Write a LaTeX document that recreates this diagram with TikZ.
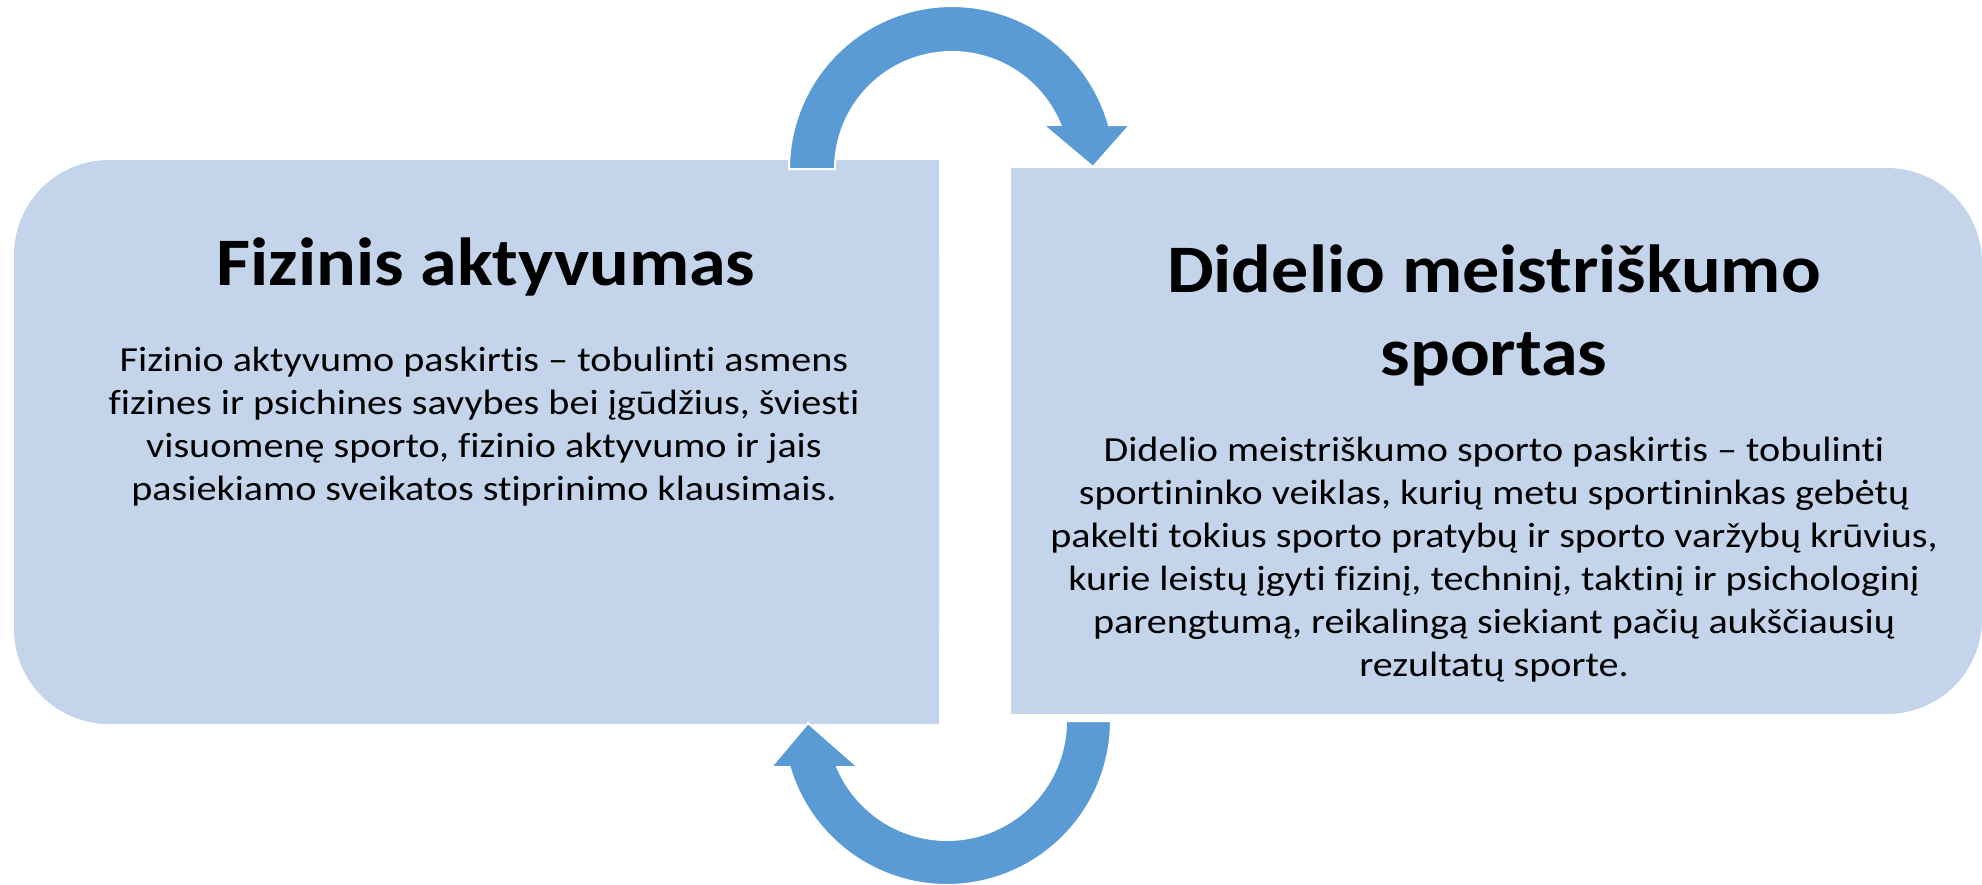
\documentclass[tikz,border=0pt]{standalone}
\usepackage{fontspec}
\setmainfont{Carlito}[Ligatures=NoCommon]
\newfontfamily\titlefont{Carlito}[FakeStretch=1.09,Ligatures=NoCommon]
\newfontfamily\bodyfont{Carlito}[FakeStretch=1.14,Ligatures=NoCommon]
\definecolor{boxfill}{RGB}{196,212,234}
\definecolor{arrowblue}{RGB}{91,155,213}
\begin{document}
\begin{tikzpicture}[x=1pt,y=-1pt,
  box/.style={fill=boxfill},
  cyclearrow/.style={fill=arrowblue,draw=white,line width=2pt,line join=miter},
  titletext/.style={inner sep=0pt,align=center,font=\titlefont\fontsize{68}{83}\selectfont\bfseries},
  bodytext/.style={inner sep=0pt,align=center,font=\bodyfont\fontsize{35.2}{43}\selectfont}]
\useasboundingbox (0,0) rectangle (1982,884);
% left box (rounded on the left)
\fill[box,rounded corners=95pt] (14,160) rectangle (939,724);
\fill[box] (500,160) rectangle (939,724);
\coordinate (lbox) at (476,442);
% right box (rounded on the right)
\fill[box,rounded corners=95pt] (1011,168) rectangle (1982,714);
\fill[box] (1011,168) rectangle (1500,714);
\coordinate (rbox) at (1496,441);
% top circular arrow
\filldraw[cyclearrow] plot[domain=180:344.34,samples=80] ({952+163*cos(\x)},{169+163*sin(\x)})
  -- (1130,125) -- (1093,167) -- (1043,125)
  -- plot[domain=337.9:180,samples=80] ({952+117*cos(\x)},{169+117*sin(\x)}) -- cycle;
% bottom circular arrow
\filldraw[cyclearrow] plot[domain=0:163.71,samples=80] ({947+164*cos(\x)},{721+164*sin(\x)})
  -- (771,767) -- (808,723) -- (858,767)
  -- plot[domain=157.26:0,samples=80] ({947+119*cos(\x)},{721+119*sin(\x)}) -- cycle;
% texts
\node[titletext,anchor=base] (ltitle) at (486,285) {Fizinis aktyvumas};
\node[bodytext,anchor=north] (ltext) at (484,347) {Fizinio aktyvumo paskirtis – tobulinti asmens\\
fizines ir psichines savybes bei įgūdžius, šviesti\\
visuomenę sporto, fizinio aktyvumo ir jais\\
pasiekiamo sveikatos stiprinimo klausimais.};
\node[titletext,anchor=north] (rtitle) at (1494,245) {Didelio meistriškumo\\ sportas};
\node[bodytext,anchor=north] (rtext) at (1494,437) {Didelio meistriškumo sporto paskirtis – tobulinti\\
sportininko veiklas, kurių metu sportininkas gebėtų\\
pakelti tokius sporto pratybų ir sporto varžybų krūvius,\\
kurie leistų įgyti fizinį, techninį, taktinį ir psichologinį\\
parengtumą, reikalingą siekiant pačių aukščiausių\\
rezultatų sporte.};
\end{tikzpicture}
\end{document}
